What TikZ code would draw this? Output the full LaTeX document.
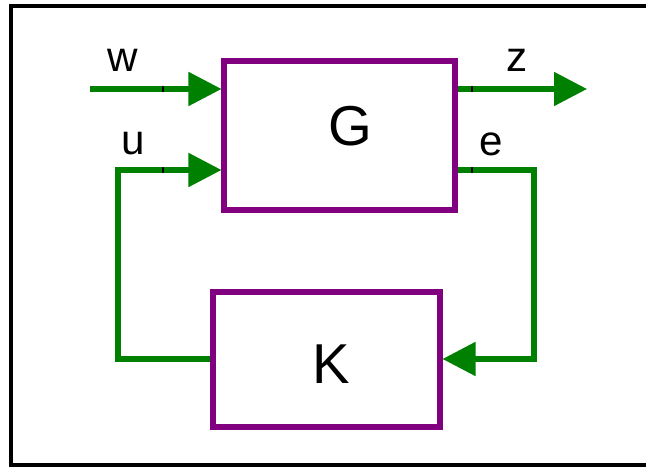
\documentclass[tikz,border=0pt]{standalone}
\usepackage{fontspec}
\setmainfont{Liberation Sans}
\usetikzlibrary{arrows.meta, positioning}
\definecolor{sysgreen}{HTML}{008000}
\definecolor{syspurple}{HTML}{800080}

\begin{document}
\begin{tikzpicture}[x=0.02cm, y=-0.02cm,
  block/.style={rectangle, draw=syspurple, line width=2.9pt, inner sep=0pt},
  signal/.style={draw=sysgreen, line width=2.9pt},
  into/.style={signal, -{Triangle[length=0.66cm, width=0.66cm]}},
  tickmark/.style={draw=black, line width=0.8pt},
  sig/.style={font=\fontsize{24}{24}\selectfont, inner sep=0pt},
  blocklabel/.style={font=\fontsize{32}{32}\selectfont, inner sep=0pt}
]
  \useasboundingbox (0,0) rectangle (646,469);
  \draw[line width=2pt] (646,6) -- (11,6) -- (11,465) -- (646,465);

  \node[block, minimum width=4.62cm, minimum height=2.98cm] (plant) at (339.5,135.5) {};
  \node[block, minimum width=4.54cm, minimum height=2.7cm] (ctrl) at (326.5,359.5) {};
  \node[blocklabel] (gname) at (350,126) {G};
  \node[blocklabel] (kname) at (331,364) {K};

  \coordinate (win) at (90,89);
  \coordinate (zout) at (587,89);
  \coordinate (uleft) at (118,170);
  \coordinate (eright) at (534,170);

  \draw[into] (win) -- (win -| plant.west);
  \draw[into] (ctrl.west |- 0,359) -| (uleft) -- (uleft -| plant.west);
  \draw[into] (zout -| plant.east) -- (zout);
  \draw[into] (eright -| plant.east) -- (eright) |- (ctrl.east |- 0,359);

  \draw[tickmark] (163,86) -- (163,92);
  \draw[tickmark] (163,167) -- (163,173);
  \draw[tickmark] (472,86) -- (472,92);
  \draw[tickmark] (472,167) -- (472,173);

  \node[sig] (wlab) at (123,60) {w};
  \node[sig] (zlab) at (517,60) {z};
  \node[sig] (ulab) at (133,144) {u};
  \node[sig] (elab) at (491,144) {e};
\end{tikzpicture}
\end{document}
